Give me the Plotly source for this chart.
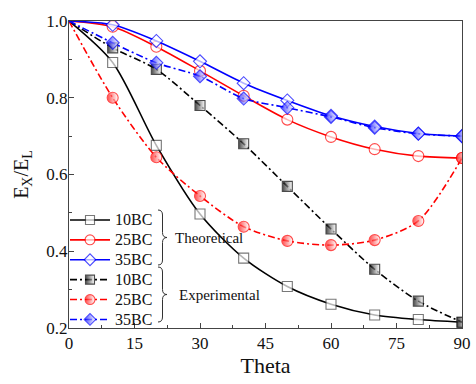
import plotly.graph_objects as go

theta = [0, 10, 20, 30, 40, 50, 60, 70, 80, 90]
theo_10bc = [1.0, 0.892, 0.676, 0.497, 0.382, 0.308, 0.262, 0.234, 0.222, 0.215]
theo_25bc = [1.0, 0.985, 0.933, 0.870, 0.805, 0.743, 0.698, 0.666, 0.648, 0.643]
theo_35bc = [1.0, 0.990, 0.948, 0.895, 0.838, 0.793, 0.753, 0.725, 0.707, 0.700]
exp_10bc = [1.0, 0.930, 0.874, 0.780, 0.680, 0.569, 0.458, 0.353, 0.270, 0.215]
exp_25bc = [1.0, 0.800, 0.645, 0.544, 0.464, 0.427, 0.416, 0.429, 0.479, 0.643]
exp_35bc = [1.0, 0.943, 0.891, 0.856, 0.798, 0.774, 0.750, 0.722, 0.706, 0.700]
names = ["10BC", "25BC", "35BC"]
x_ticks = [0, 15, 30, 45, 60, 75, 90]
y_ticks = [0.2, 0.4, 0.6, 0.8, 1.0]

FONT = "Liberation Serif"
BLACK, RED, BLUE = "#000000", "#FF0000", "#0000FF"

W, H = 476, 384
L, R, T, B = 69, 14, 21, 56
PW, PH = W - L - R, H - T - B


def sizes(s):
    return [0] + [s] * (len(theta) - 1)


def lname(n):
    return f'<span style="font-size:16px">{n}</span>'


fig = go.Figure()

theo = [(theo_10bc, BLACK, "#404040", "square", 10),
        (theo_25bc, RED, RED, "circle", 11),
        (theo_35bc, BLUE, BLUE, "diamond", 10)]
for (ys, col, mcol, sym, ms), n in zip(theo, names):
    fig.add_trace(go.Scatter(
        x=theta, y=ys, name=lname(n), mode="lines+markers",
        line=dict(color=col, width=1.6, shape="spline", smoothing=0.8),
        marker=dict(symbol=sym, size=sizes(ms), color="white",
                    line=dict(color=mcol, width=1.1)),
    ))

exp = [(exp_10bc, BLACK, "square", 10),
       (exp_25bc, RED, "circle", 11),
       (exp_35bc, BLUE, "diamond", 10)]
for (ys, col, sym, ms), n in zip(exp, names):
    fig.add_trace(go.Scatter(
        x=theta, y=ys, name=lname(n), mode="lines+markers",
        line=dict(color=col, width=1.6, shape="spline", smoothing=0.8,
                  dash="7px,3px,2px,3px"),
        marker=dict(symbol=sym, size=sizes(ms), color=col,
                    gradient=dict(type="horizontal", color="white"),
                    line=dict(color=col, width=1.1)),
    ))


def px(xp):
    return (xp - L) / PW


def py(yp):
    return (T + PH - yp) / PH


def brace(xl, xt, yt, yb, r=5):
    xm = (xl + xt) / 2
    ym = (yt + yb) / 2
    pts = [
        f"M{px(xl)},{py(yt)}",
        f"Q{px(xm)},{py(yt)} {px(xm)},{py(yt + r)}",
        f"L{px(xm)},{py(ym - r)}",
        f"Q{px(xm)},{py(ym)} {px(xt)},{py(ym)}",
        f"Q{px(xm)},{py(ym)} {px(xm)},{py(ym + r)}",
        f"L{px(xm)},{py(yb - r)}",
        f"Q{px(xm)},{py(yb)} {px(xl)},{py(yb)}",
    ]
    return dict(type="path", xref="paper", yref="paper", path=" ".join(pts),
                line=dict(color="#333333", width=1))


shapes = [brace(158, 167, 210, 265), brace(158, 167, 267, 322)]
annotations = [
    dict(text="Theoretical", xref="paper", yref="paper", x=px(173), y=py(237.5),
         xanchor="left", yanchor="middle", showarrow=False,
         font=dict(family=FONT, size=15, color="#111111")),
    dict(text="Experimental", xref="paper", yref="paper", x=px(177), y=py(294.5),
         xanchor="left", yanchor="middle", showarrow=False,
         font=dict(family=FONT, size=15, color="#111111")),
]

axis_common = dict(showline=True, linecolor="#444444", linewidth=1, mirror=True,
                   ticks="inside", ticklen=5, tickcolor="#444444", showgrid=False,
                   zeroline=False, automargin=False,
                   tickfont=dict(family=FONT, size=17, color="#111111"))

fig.update_layout(
    width=W, height=H,
    margin=dict(l=L, r=R, t=T, b=B),
    paper_bgcolor="white", plot_bgcolor="white",
    font=dict(family=FONT, color="#111111"),
    xaxis=dict(range=[0, 90], tickvals=x_ticks,
               minor=dict(dtick=7.5, ticks="inside", ticklen=3, tickcolor="#444444"),
               title=dict(text="Theta", font=dict(family=FONT, size=22), standoff=0),
               **axis_common),
    yaxis=dict(range=[0.2, 1.0], tickvals=y_ticks, tickformat=".1f",
               ticklabelstandoff=-3,
               minor=dict(dtick=0.1, ticks="inside", ticklen=3, tickcolor="#444444"),
               title=dict(text="E<sub>X</sub>/E<sub>L</sub>", font=dict(family=FONT, size=20),
                          standoff=12),
               **axis_common),
    legend=dict(x=px(65), y=-7 / PH, xanchor="left", yanchor="bottom",
                bgcolor="rgba(0,0,0,0)", borderwidth=0, itemwidth=40,
                font=dict(family=FONT, size=13, color="#111111"),
                tracegroupgap=0),
    shapes=shapes,
    annotations=annotations,
    showlegend=True,
)

fig.write_html("out.html",
               config={"displayModeBar": False},
               post_script="document.body.style.margin='0px';document.body.style.overflow='hidden';")
